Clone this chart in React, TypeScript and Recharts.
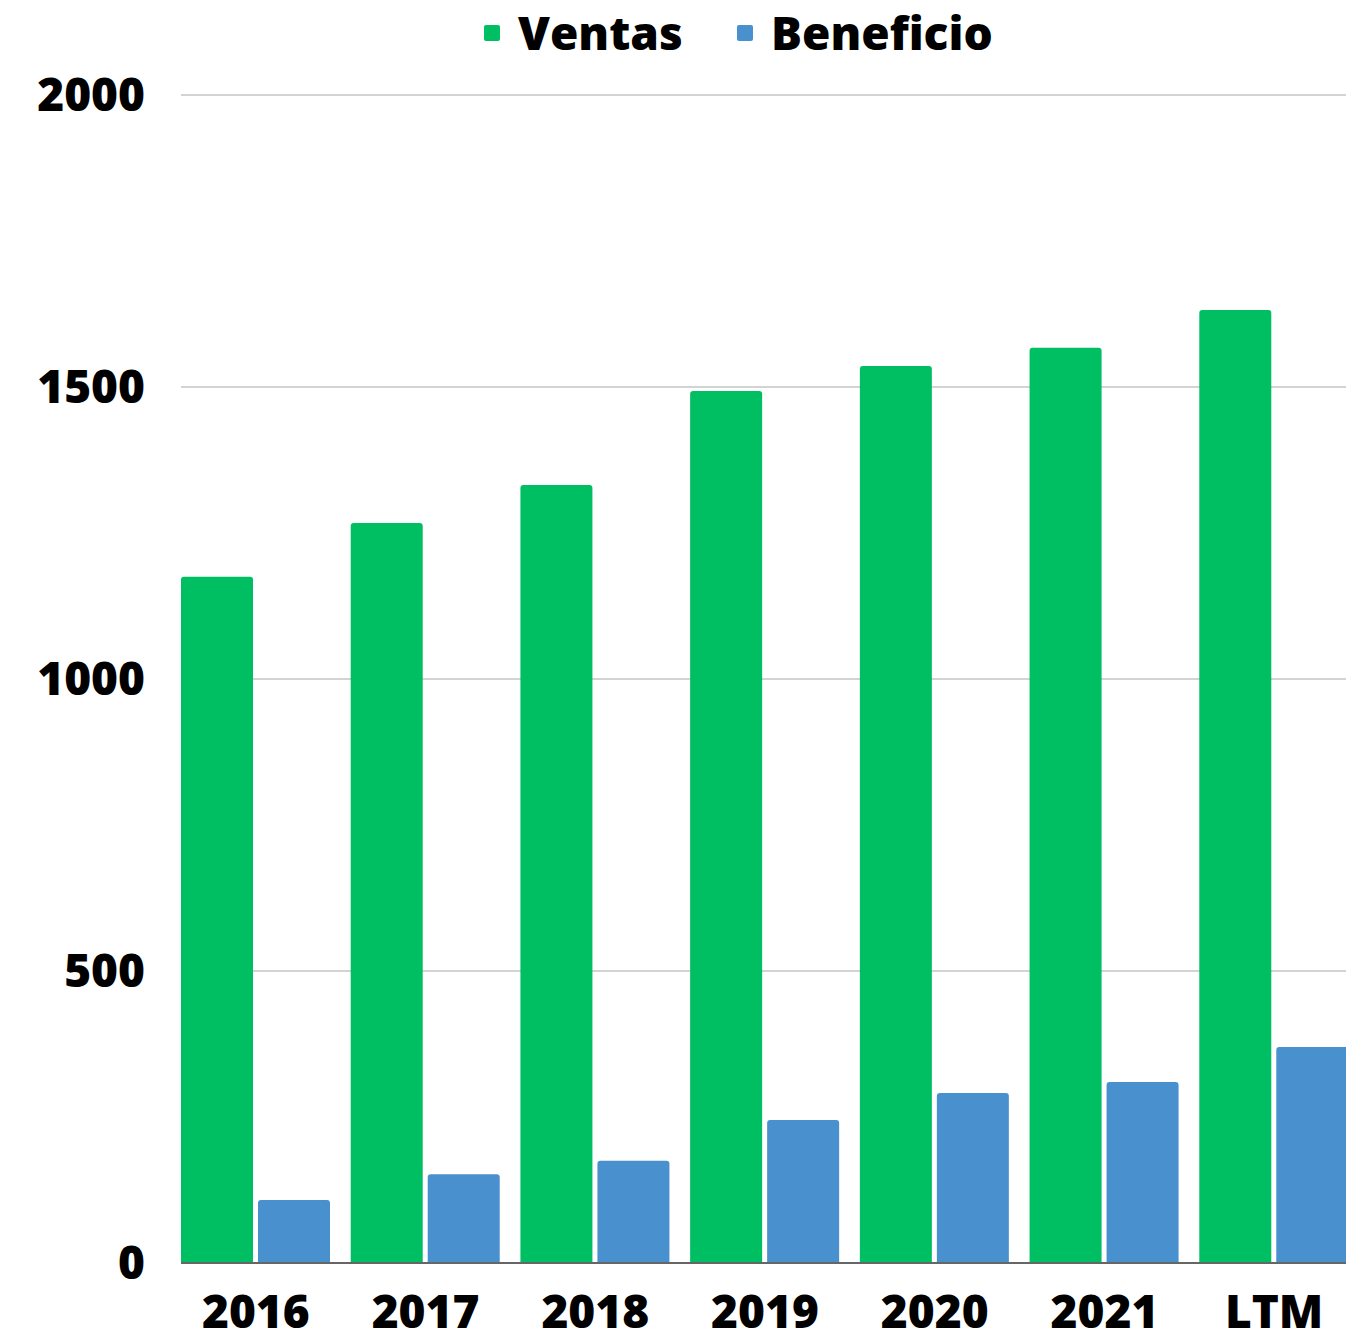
import React from "react";
import { BarChart, Bar, XAxis, YAxis, CartesianGrid, Legend } from "recharts";

const categories = ["2016", "2017", "2018", "2019", "2020", "2021", "LTM"];
const ventas = [1175, 1267, 1332, 1493, 1536, 1567, 1632];
const beneficio = [108, 152, 175, 245, 291, 310, 370];
const yTicks = [0, 500, 1000, 1500, 2000];
const seriesNames = ["Ventas", "Beneficio"];
const seriesColors = ["#00BF63", "#4990CE"];

const data = categories.map((c, i) => ({ name: c, Ventas: ventas[i], Beneficio: beneficio[i] }));

const FONT = "'Open Sans', 'DejaVu Sans', sans-serif";

const LegendContent = () => (
  <div style={{ position: "relative", width: 1346, height: 70, fontFamily: FONT }}>
    {seriesNames.map((n, i) => {
      const left = i === 0 ? 484 : 737;
      return (
        <React.Fragment key={n}>
          <div
            style={{
              position: "absolute",
              left,
              top: 25,
              width: 16,
              height: 16,
              borderRadius: 2,
              background: seriesColors[i],
            }}
          />
          <div
            style={{
              position: "absolute",
              left: left + 34,
              top: 0,
              fontSize: 46,
              fontWeight: 800,
              lineHeight: "64px",
              color: "#000",
              whiteSpace: "nowrap",
            }}
          >
            {n}
          </div>
        </React.Fragment>
      );
    })}
  </div>
);

export default function App() {
  return (
    <div
      style={{
        position: "absolute",
        left: 0,
        top: 0,
        width: 1346,
        height: 1334,
        overflow: "hidden",
        background: "#fff",
      }}
    >
      <BarChart
        width={1359}
        height={1334}
        data={data}
        margin={{ top: 25, right: 0, bottom: 0, left: 0 }}
        barCategoryGap={10}
        barGap={5}
      >
        <CartesianGrid vertical={false} stroke="#C4C4C4" strokeWidth={1.5} />
        <XAxis
          dataKey="name"
          height={71}
          padding={{ left: -10, right: 0 }}
          tickLine={false}
          tickSize={0}
          tickMargin={32}
          axisLine={{ stroke: "#666666", strokeWidth: 2 }}
          tick={{ fontFamily: FONT, fontSize: 46, fontWeight: 800, fill: "#000" }}
        />
        <YAxis
          width={181}
          domain={[0, 2000]}
          ticks={yTicks}
          axisLine={false}
          tickLine={false}
          tickSize={0}
          tickMargin={36}
          tick={{ fontFamily: FONT, fontSize: 46, fontWeight: 800, fill: "#000" }}
        />
        <Legend
          layout="vertical"
          align="center"
          verticalAlign="top"
          wrapperStyle={{ top: 0, left: 0, width: 1346, height: 70 }}
          content={<LegendContent />}
        />
        <Bar dataKey="Ventas" fill={seriesColors[0]} radius={[3, 3, 0, 0]} isAnimationActive={false} />
        <Bar dataKey="Beneficio" fill={seriesColors[1]} radius={[3, 3, 0, 0]} isAnimationActive={false} />
      </BarChart>
    </div>
  );
}
